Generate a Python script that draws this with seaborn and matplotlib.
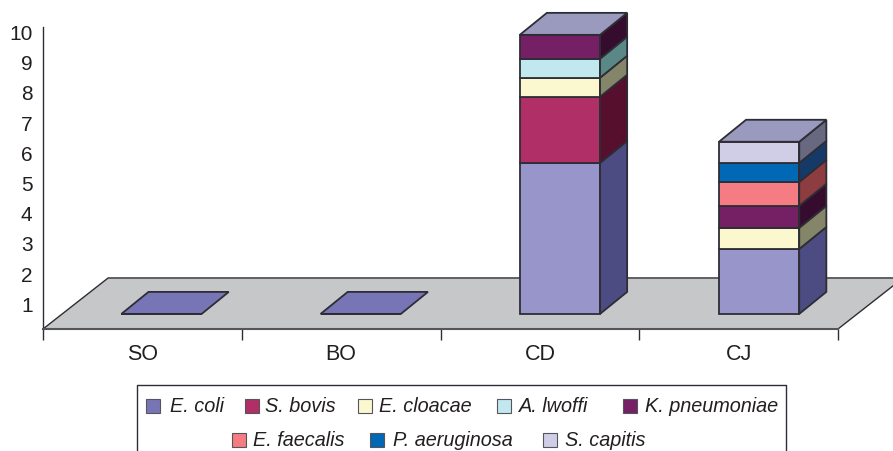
import matplotlib
matplotlib.use("Agg")
import matplotlib.pyplot as plt
import numpy as np
import seaborn as sns
from matplotlib.lines import Line2D
from matplotlib.patches import Polygon, Rectangle
from matplotlib.transforms import ScaledTranslation

# data
categories = ["SO", "BO", "CD", "CJ"]
species = ["E. coli", "S. bovis", "E. cloacae", "A. lwoffi", "K. pneumoniae",
           "E. faecalis", "P. aeruginosa", "S. capitis"]
e_coli = [0, 0, 5.0, 2.15]
s_bovis = [0, 0, 2.19, 0]
e_cloacae = [0, 0, 0.63, 0.70]
a_lwoffi = [0, 0, 0.63, 0]
k_pneumoniae = [0, 0, 0.79, 0.73]
e_faecalis = [0, 0, 0, 0.79]
p_aeruginosa = [0, 0, 0, 0.63]
s_capitis = [0, 0, 0, 0.70]
y_ticks = [1, 2, 3, 4, 5, 6, 7, 8, 9, 10]

series = [e_coli, s_bovis, e_cloacae, a_lwoffi, k_pneumoniae,
          e_faecalis, p_aeruginosa, s_capitis]

# front colour, side colour, legend colour
front_colors = ["#9795c9", "#b02f66", "#fbf7cf", "#c0e8ee", "#752064", "#f57c83", "#0068b5", "#cfcee6"]
side_colors = ["#4c4c82", "#560f2d", "#85856a", "#5a8887", "#360c2e", "#8d3c40", "#163a68", "#686880"]
legend_colors = ["#7875b6"] + front_colors[1:]
top_color = "#9a99be"
edge = "#2e2d35"
ink = "#231f20"

sns.set_theme(style="white")
plt.rcParams["font.family"] = ["Liberation Sans", "DejaVu Sans"]

W, H = 893, 451
fig = plt.figure(figsize=(W / 100, H / 100), dpi=100)
ax = fig.add_axes([43 / W, 1 - 329 / H, 795 / W, 302 / H])

# oblique projection, in data units
x_left, x_right = -0.595, 3.396
slot = (x_right - x_left) / len(categories)
floor_dx, floor_dy = 0.327, 1.69
bar_dx, bar_dy = 0.136, 0.728
base = 0.5
bar_width = 0.403

floor = Polygon([(x_left, 0), (x_right, 0), (x_right + floor_dx, floor_dy), (x_left + floor_dx, floor_dy)],
                closed=True, facecolor="#c6c7c9", edgecolor=edge, linewidth=1.0, clip_on=False, zorder=1)
ax.add_patch(floor)

# front faces, stacked by hand
bottoms = np.full(len(categories), base)
for values, front, side in zip(series, front_colors, side_colors):
    values = np.array(values, dtype=float)
    sns.barplot(x=categories, y=values, bottom=bottoms, color=front, saturation=1, width=bar_width,
                edgecolor=edge, linewidth=1.3, clip_on=False, zorder=3, ax=ax)
    # side faces
    for i, v in enumerate(values):
        if v == 0:
            continue
        x0 = i + bar_width / 2
        y0 = bottoms[i]
        ax.add_patch(Polygon([(x0, y0), (x0 + bar_dx, y0 + bar_dy), (x0 + bar_dx, y0 + v + bar_dy), (x0, y0 + v)],
                             closed=True, facecolor=side, edgecolor=edge, linewidth=1.3, clip_on=False, zorder=3))
    bottoms = bottoms + values

# top faces
for i, top in enumerate(bottoms):
    x0 = i - bar_width / 2
    x1 = i + bar_width / 2
    color = top_color if top > base else legend_colors[0]
    ax.add_patch(Polygon([(x0, top), (x1, top), (x1 + bar_dx, top + bar_dy), (x0 + bar_dx, top + bar_dy)],
                         closed=True, facecolor=color, edgecolor=edge, linewidth=1.3, clip_on=False, zorder=3))

ax.set_xlim(x_left, x_right)
ax.set_ylim(0, 10)
ax.set_xlabel("")
ax.set_ylabel("")

# category labels sit mid-slot, tick marks between the slots
slots = np.arange(len(categories))
ax.set_xticks(x_left + (slots + 0.5) * slot)
ax.set_xticklabels(categories, fontsize=15.5, color=ink)
ax.set_xticks(x_left + np.arange(len(categories) + 1) * slot, minor=True)
ax.tick_params(axis="x", which="major", length=0, pad=10.5)
ax.tick_params(axis="x", which="minor", length=8, width=1, color=edge, bottom=True)

ax.set_yticks(y_ticks)
ax.set_yticklabels(y_ticks, fontsize=15, color=ink)
ax.tick_params(axis="y", length=0, pad=7.5)
shift = ScaledTranslation(0, -5.5 / 100, fig.dpi_scale_trans)
for label in ax.get_yticklabels():
    label.set_transform(label.get_transform() + shift)

sns.despine(ax=ax)
ax.spines["left"].set_color(edge)
ax.spines["left"].set_linewidth(1.0)
ax.spines["left"].set_zorder(2)
ax.spines["bottom"].set_color("#55555a")
ax.spines["bottom"].set_linewidth(1.5)
ax.patch.set_alpha(0)


# legend box runs off the bottom of the image, so it is built in pixel positions
def fx(px):
    return px / W


def fy(py):
    return 1 - py / H


legend_rows = [406, 406, 406, 406, 406, 440, 440, 440]
legend_squares = [146, 245, 358, 497, 623, 232, 370, 543]
legend_texts = [170, 265, 379, 519, 645, 253, 393, 565]

fig.add_artist(Line2D([fx(137), fx(137), fx(786), fx(786)], [fy(451), fy(385), fy(385), fy(451)],
                      color=edge, linewidth=1.0))
for name, color, row, sq, tx in zip(species, legend_colors, legend_rows, legend_squares, legend_texts):
    fig.add_artist(Rectangle((fx(sq), fy(row + 7)), 14 / W, 14 / H, transform=fig.transFigure,
                             facecolor=color, edgecolor="#55555a", linewidth=0.8))
    fig.text(fx(tx), fy(row + 1), name, style="italic", fontsize=14.3, color=ink, va="center", ha="left")

fig.savefig("out.png", dpi=100)
